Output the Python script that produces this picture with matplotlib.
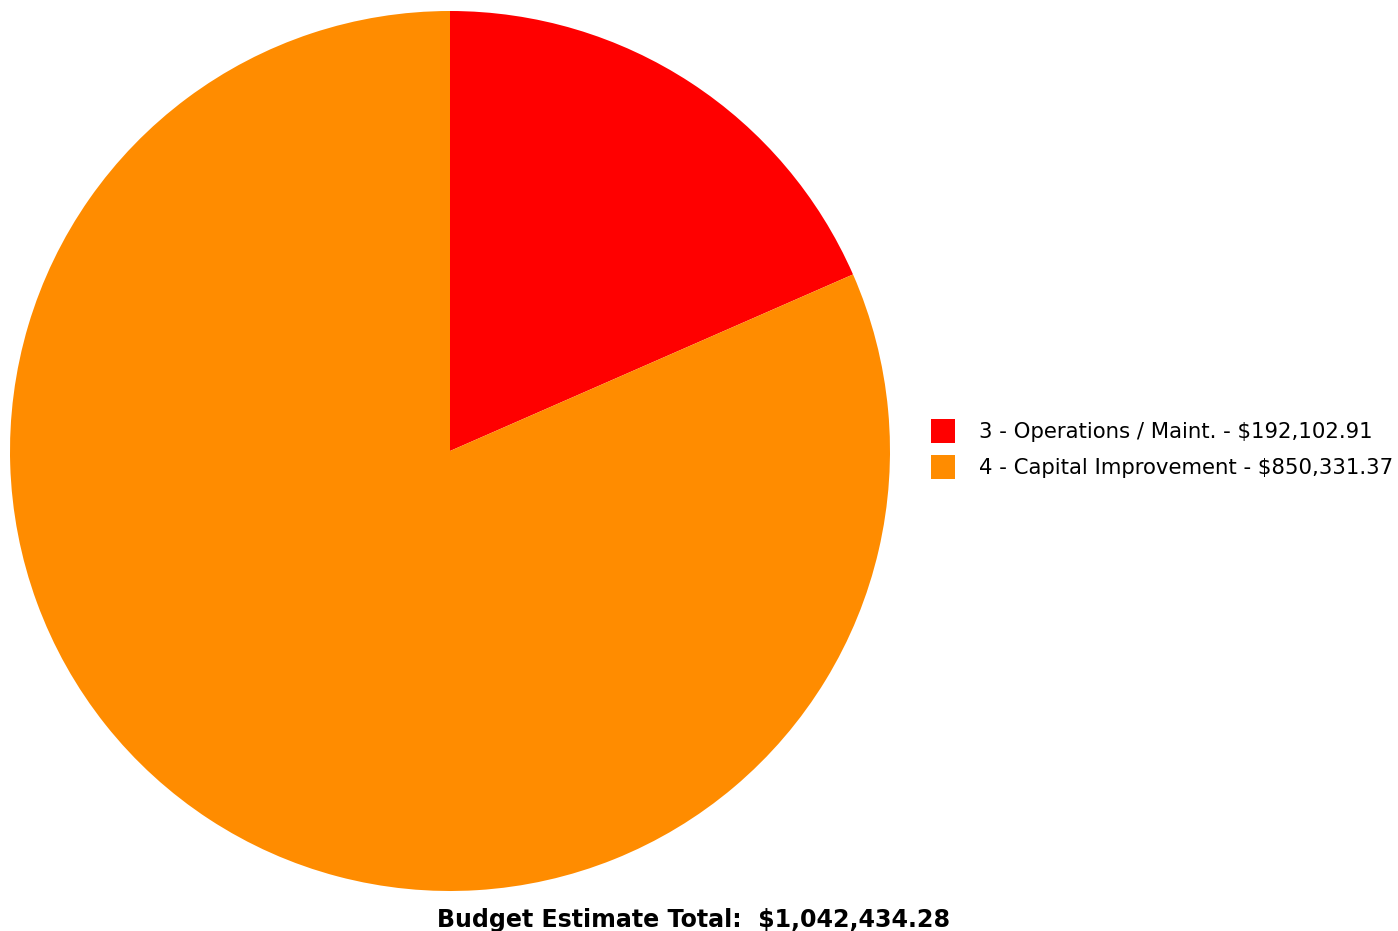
import matplotlib
matplotlib.use("Agg")
import matplotlib.pyplot as plt
from matplotlib.patches import Patch

categories = ["3 - Operations / Maint.", "4 - Capital Improvement"]
amounts = [192102.91, 850331.37]
colors = ["#FF0000", "#FF8C00"]
total = sum(amounts)

W, H = 1398, 931
fig = plt.figure(figsize=(W / 100, H / 100), dpi=100)
ax = fig.add_axes([0, 0, 1, 1])

ax.pie(amounts, colors=colors, startangle=90, counterclock=False,
       center=(450, H - 451), radius=440, frame=True,
       wedgeprops=dict(linewidth=0))
ax.set_xlim(0, W)
ax.set_ylim(0, H)
ax.set_aspect("equal")
ax.axis("off")

font = "DejaVu Sans"
handles = [Patch(facecolor=c, edgecolor="none") for c in colors]
labels = [f"{c} - ${v:,.2f}" for c, v in zip(categories, amounts)]
leg = fig.legend(handles, labels, loc="center left",
                 bbox_to_anchor=(931 / W, 1 - 449 / H),
                 frameon=False, prop=dict(family=font, size=15.3),
                 handlelength=1.13, handleheight=1.36, handletextpad=1.15,
                 labelspacing=0.6, borderpad=0, borderaxespad=0)

fig.text(694 / W, 1 - 927 / H, f"Budget Estimate Total:  ${total:,.2f}",
         ha="center", va="baseline", family=font, weight="bold", size=17.1)

fig.savefig("out.png", dpi=100)
